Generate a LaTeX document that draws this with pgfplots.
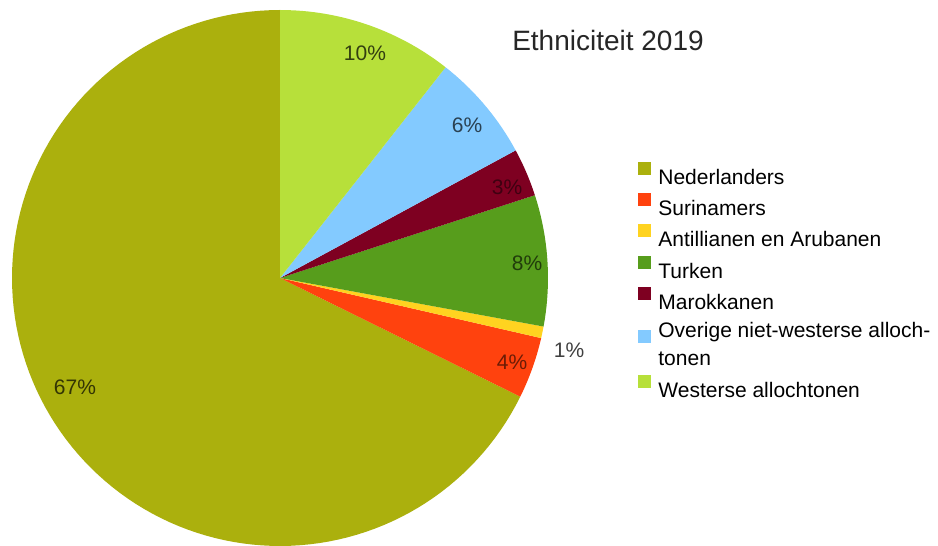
\documentclass[border=0pt]{standalone}
\usepackage{pgfplots}
\pgfplotsset{compat=1.18}
\usepackage{fontspec}
\setmainfont{Liberation Sans}
\definecolor{ned}{HTML}{ABB00D}
\definecolor{sur}{HTML}{FF420E}
\definecolor{ant}{HTML}{FFD320}
\definecolor{tur}{HTML}{579D1C}
\definecolor{mar}{HTML}{7E0021}
\definecolor{ovr}{HTML}{83CAFF}
\definecolor{wes}{HTML}{B7E03A}
% shares (percent): Nederlanders 67.7, Surinamers 3.7, Antillianen 0.7,
% Turken 7.9, Marokkanen 2.9, Overige 6.5, Westerse 10.6
% cumulative angles (deg, counter-clockwise from 90): 
% 90, 333.72, 347.04, 349.56, 378.00, 388.44, 411.84, 450
\begin{document}
\begin{tikzpicture}
\begin{axis}[
  scale only axis, width=469pt, height=273pt,
  xmin=0, xmax=938, ymin=0, ymax=546,
  hide axis, clip=false,
  legend style={at={(axis cs:638,384.5)}, anchor=north west, draw=none, fill=none,
    font=\fontsize{10.5}{14}\selectfont, inner sep=0pt, row sep=3pt, column sep=3.5pt,
    nodes={inner sep=0pt}, cells={align=left}},
  legend cell align=left,
  legend image code/.code={\fill[#1] (0pt,0.5pt) rectangle (6.5pt,7pt);},
]
\addplot[fill=ned, draw=none, domain=90:333.72, samples=120] ({280+268*cos(x)},{268+268*sin(x)}) -- (axis cs:280,268) -- cycle;
\addlegendentry{\strut Nederlanders}
\addplot[fill=sur, draw=none, domain=333.72:347.04, samples=12] ({280+268*cos(x)},{268+268*sin(x)}) -- (axis cs:280,268) -- cycle;
\addlegendentry{\strut Surinamers}
\addplot[fill=ant, draw=none, domain=347.04:349.56, samples=4] ({280+268*cos(x)},{268+268*sin(x)}) -- (axis cs:280,268) -- cycle;
\addlegendentry{\strut Antillianen en Arubanen}
\addplot[fill=tur, draw=none, domain=349.56:378.00, samples=20] ({280+268*cos(x)},{268+268*sin(x)}) -- (axis cs:280,268) -- cycle;
\addlegendentry{\strut Turken}
\addplot[fill=mar, draw=none, domain=378.00:388.44, samples=10] ({280+268*cos(x)},{268+268*sin(x)}) -- (axis cs:280,268) -- cycle;
\addlegendentry{\strut Marokkanen}
\addplot[fill=ovr, draw=none, domain=388.44:411.84, samples=18] ({280+268*cos(x)},{268+268*sin(x)}) -- (axis cs:280,268) -- cycle;
\addlegendentry{\strut Overige niet-westerse alloch-\\\strut tonen}
\addplot[fill=wes, draw=none, domain=411.84:450, samples=26] ({280+268*cos(x)},{268+268*sin(x)}) -- (axis cs:280,268) -- cycle;
\addlegendentry{\strut Westerse allochtonen}

\node[font=\fontsize{10.5}{13}\selectfont, text=ned!30!black] at (axis cs:75,159) {67\%};
\node[font=\fontsize{10.5}{13}\selectfont, text=wes!28!black] at (axis cs:365,493) {10\%};
\node[font=\fontsize{10.5}{13}\selectfont, text=ovr!32!black] at (axis cs:467,421) {6\%};
\node[font=\fontsize{10.5}{13}\selectfont, text=mar!50!black] at (axis cs:507,359) {3\%};
\node[font=\fontsize{10.5}{13}\selectfont, text=tur!38!black] at (axis cs:527,283) {8\%};
\node[font=\fontsize{10.5}{13}\selectfont, text=sur!42!black] at (axis cs:512,184) {4\%};
\node[font=\fontsize{10.5}{13}\selectfont, text=black!75] at (axis cs:569,196) {1\%};
\node[font=\fontsize{14}{16}\selectfont, text=black!85] at (axis cs:608,506) {Ethniciteit 2019};

\coordinate (ll) at (axis cs:0,0);
\coordinate (ur) at (axis cs:938,546);
\end{axis}
\pgfresetboundingbox
\path[use as bounding box] (ll) rectangle (ur);
\end{tikzpicture}
\end{document}
